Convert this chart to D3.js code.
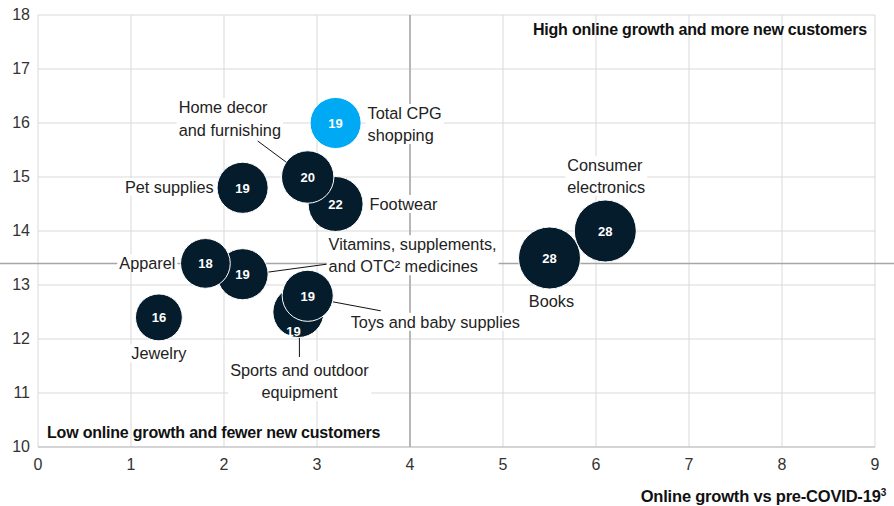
<!DOCTYPE html>
<html>
<head>
<meta charset="utf-8">
<script src="https://cdn.jsdelivr.net/npm/d3@7"></script>
<style>
  body { margin: 0; background: #fff; }
  text { font-family: "Liberation Sans", Arial, sans-serif; }
</style>
</head>
<body>
<div id="chart"></div>
<script>
// data
let categories = ["Footwear", "Home decor and furnishing", "Vitamins, supplements, and OTC medicines", "Apparel",
                  "Sports and outdoor equipment", "Toys and baby supplies", "Consumer electronics", "Books",
                  "Pet supplies", "Jewelry", "Total CPG shopping"];
let onlineGrowth = [3.2, 2.9, 2.2, 1.8, 2.8, 2.9, 6.1, 5.5, 2.2, 1.3, 3.2];
let newCustomers = [14.5, 15.0, 13.2, 13.4, 12.5, 12.8, 14.0, 13.5, 14.8, 12.4, 16.0];
let bubbleValues = [22, 20, 19, 18, 19, 19, 28, 28, 19, 16, 19];
let xTicks = [0, 1, 2, 3, 4, 5, 6, 7, 8, 9];
let yTicks = [10, 11, 12, 13, 14, 15, 16, 17, 18];
let xDivider = 4, yDivider = 13.4;

// label placement (pixel offsets from bubble centre)
let labelLayout = {
  "Footwear": {lines: ["Footwear"], dx: 34, dy: [6], anchor: "start"},
  "Home decor and furnishing": {lines: ["Home decor", "and furnishing"], dx: -129, dy: [-64, -41], anchor: "start", leader: [-50, -36, -19, -13]},
  "Vitamins, supplements, and OTC medicines": {lines: ["Vitamins, supplements,", "and OTC² medicines"], dx: 86, dy: [-24, -2], anchor: "start", leader: [25, -2, 84, -10]},
  "Apparel": {lines: ["Apparel"], dx: -30, dy: [6], anchor: "end"},
  "Sports and outdoor equipment": {lines: ["Sports and outdoor", "equipment"], dx: 1, dy: [64, 86], anchor: "middle", leader: [1, 25, 1, 45], numDx: -5, numDy: 19},
  "Toys and baby supplies": {lines: ["Toys and baby supplies"], dx: 43, dy: [32], anchor: "start", leader: [25, 6, 73, 15]},
  "Consumer electronics": {lines: ["Consumer", "electronics"], dx: -38, dy: [-60, -38], anchor: "start"},
  "Books": {lines: ["Books"], dx: 2, dy: [49], anchor: "middle"},
  "Pet supplies": {lines: ["Pet supplies"], dx: -29, dy: [5], anchor: "end"},
  "Jewelry": {lines: ["Jewelry"], dx: 0, dy: [42], anchor: "middle"},
  "Total CPG shopping": {lines: ["Total CPG", "shopping"], dx: 32, dy: [-4, 18], anchor: "start"}
};

const width = 894, height = 506;
const margin = {top: 15, right: 19, bottom: 59, left: 38};
const innerW = width - margin.left - margin.right;
const innerH = height - margin.top - margin.bottom;

const svg = d3.select("#chart").append("svg")
  .attr("width", width).attr("height", height);

const x = d3.scaleLinear().domain([0, 9]).range([margin.left, margin.left + innerW]);
const y = d3.scaleLinear().domain([10, 18]).range([margin.top + innerH, margin.top]);
const r = d3.scaleSqrt().domain([0, 28]).range([0, 31]);

// grid
svg.append("g").selectAll("line").data(xTicks).join("line")
  .attr("x1", d => x(d)).attr("x2", d => x(d))
  .attr("y1", y(18)).attr("y2", y(10))
  .attr("stroke", "#d9d9d9").attr("stroke-width", 1);
svg.append("g").selectAll("line").data(yTicks).join("line")
  .attr("x1", x(0)).attr("x2", x(9))
  .attr("y1", d => y(d)).attr("y2", d => y(d))
  .attr("stroke", "#d9d9d9").attr("stroke-width", 1);
// bottom axis line
svg.append("line").attr("x1", x(0)).attr("x2", x(9)).attr("y1", y(10)).attr("y2", y(10))
  .attr("stroke", "#bdbdbd");

// quadrant dividers
svg.append("line").attr("x1", 0).attr("x2", width)
  .attr("y1", y(yDivider)).attr("y2", y(yDivider))
  .attr("stroke", "#a6a6a6").attr("stroke-width", 1.5);
svg.append("line").attr("x1", x(xDivider)).attr("x2", x(xDivider))
  .attr("y1", y(18)).attr("y2", y(10))
  .attr("stroke", "#a6a6a6").attr("stroke-width", 1.5);

// tick labels
svg.append("g").selectAll("text").data(yTicks).join("text")
  .attr("x", 30).attr("y", d => y(d) + 5)
  .attr("text-anchor", "end").attr("font-size", 16).attr("fill", "#333")
  .text(d => d);
svg.append("g").selectAll("text").data(xTicks).join("text")
  .attr("x", d => x(d)).attr("y", 470)
  .attr("text-anchor", "middle").attr("font-size", 16).attr("fill", "#333")
  .text(d => d);

// quadrant captions
svg.append("text").attr("x", x(9) - 8).attr("y", y(18) + 20)
  .attr("text-anchor", "end").attr("font-size", 16).attr("font-weight", "bold").attr("fill", "#111")
  .attr("letter-spacing", -0.2)
  .text("High online growth and more new customers");
svg.append("text").attr("x", x(0) + 9).attr("y", y(10) - 9)
  .attr("text-anchor", "start").attr("font-size", 16).attr("font-weight", "bold").attr("fill", "#111")
  .attr("letter-spacing", -0.2)
  .text("Low online growth and fewer new customers");

// axis title
const xt = svg.append("text").attr("x", 886).attr("y", 502)
  .attr("text-anchor", "end").attr("font-size", 16.5).attr("font-weight", "bold").attr("fill", "#111")
  .attr("letter-spacing", -0.2);
xt.append("tspan").text("Online growth vs pre-COVID-19");
xt.append("tspan").attr("font-size", 10).attr("dy", -6).text("3");

let points = categories.map((c, i) => ({
  name: c, gx: onlineGrowth[i], gy: newCustomers[i], v: bubbleValues[i]
}));

// labels with white backing
const labelG = svg.append("g");
points.forEach(p => {
  let L = labelLayout[p.name];
  let cx = x(p.gx), cy = y(p.gy);
  let g = labelG.append("g");
  let t = g.append("text")
    .attr("text-anchor", L.anchor).attr("font-size", 16.3).attr("fill", "#222");
  L.lines.forEach((ln, k) => {
    t.append("tspan").attr("x", cx + L.dx).attr("y", cy + L.dy[k]).text(ln);
  });
  let bb = t.node().getBBox();
  g.insert("rect", "text")
    .attr("x", bb.x - 2).attr("y", bb.y).attr("width", bb.width + 4).attr("height", bb.height)
    .attr("fill", "#fff");
  if (L.leader) {
    g.append("line")
      .attr("x1", cx + L.leader[0]).attr("y1", cy + L.leader[1])
      .attr("x2", cx + L.leader[2]).attr("y2", cy + L.leader[3])
      .attr("stroke", "#111").attr("stroke-width", 1);
  }
});

// bubbles first, then all the numbers on top
svg.append("g").selectAll("circle").data(points).join("circle")
  .attr("cx", d => x(d.gx)).attr("cy", d => y(d.gy))
  .attr("r", d => r(d.v))
  .attr("fill", d => d.name === "Total CPG shopping" ? "#00a9f4" : "#051c2c")
  .attr("stroke", "#fff").attr("stroke-width", 1);
svg.append("g").selectAll("text").data(points).join("text")
  .attr("x", d => x(d.gx) + (labelLayout[d.name].numDx || 0))
  .attr("y", d => y(d.gy) + 5 + (labelLayout[d.name].numDy || 0))
  .attr("text-anchor", "middle")
  .attr("font-size", 13).attr("font-weight", "bold").attr("fill", "#fff")
  .text(d => d.v);
</script>
</body>
</html>
